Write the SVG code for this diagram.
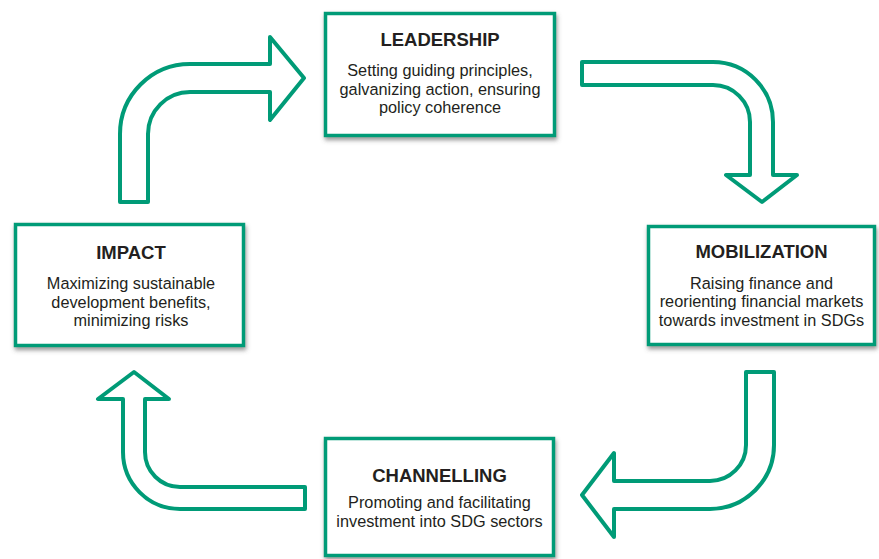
<svg xmlns="http://www.w3.org/2000/svg" width="879" height="559" viewBox="0 0 879 559">
  <defs>
    <filter id="shadow" x="-10%" y="-10%" width="120%" height="125%">
      <feDropShadow dx="1" dy="3" stdDeviation="2.2" flood-color="#555555" flood-opacity="0.6"/>
    </filter>
    <style>
      .box { fill: #ffffff; stroke: #009b77; stroke-width: 3.5; filter: url(#shadow); }
      .arrow { fill: #ffffff; stroke: #009b77; stroke-width: 4; stroke-linejoin: round; }
      .title { font-family: "Liberation Sans", Arial, sans-serif; font-weight: bold; font-size: 18.5px; fill: #231f20; text-anchor: middle; }
      .body { font-family: "Liberation Sans", Arial, sans-serif; font-size: 16.3px; fill: #231f20; text-anchor: middle; }
    </style>
  </defs>
  <rect width="879" height="559" fill="#ffffff"/>
  <g id="connectors">
    <path class="arrow" d="M120,202 L120,134 A70,70 0 0 1 190,64 L270,64 L270,37 L304,78 L270,120 L270,92 L190,92 A42,42 0 0 0 148,134 L148,202 Z"/>
    <path class="arrow" d="M582,62 L713,62 A60,60 0 0 1 773,122 L773,175 L797,175 L762,202 L726,175 L750,175 L750,122 A37,37 0 0 0 713,85 L582,85 Z"/>
    <path class="arrow" d="M746,372 L774,372 L774,445 A64,64 0 0 1 710,509 L614,509 L614,537 L582,495 L614,453 L614,481 L710,481 A36,36 0 0 0 746,445 Z"/>
    <path class="arrow" d="M305,487 L180,487 A35,35 0 0 1 145,452 L145,399 L169,399 L134,372 L98,399 L123,399 L123,452 A57,57 0 0 0 180,509 L305,509 Z"/>
  </g>
  <g id="leadership">
    <rect class="box" x="325.5" y="13.5" width="229" height="122"/>
    <text class="title" x="440" y="45.5">LEADERSHIP</text>
    <text class="body" x="440" y="76">Setting guiding principles,</text>
    <text class="body" x="440" y="94.5">galvanizing action, ensuring</text>
    <text class="body" x="440" y="113">policy coherence</text>
  </g>
  <g id="mobilization">
    <rect class="box" x="648.5" y="226.5" width="226" height="118"/>
    <text class="title" x="761.5" y="258.3">MOBILIZATION</text>
    <text class="body" x="761.5" y="289">Raising finance and</text>
    <text class="body" x="761.5" y="307">reorienting financial markets</text>
    <text class="body" x="761.5" y="325.5">towards investment in SDGs</text>
  </g>
  <g id="channelling">
    <rect class="box" x="325.5" y="438.5" width="228" height="117"/>
    <text class="title" x="439.5" y="481.7">CHANNELLING</text>
    <text class="body" x="439.5" y="508.3">Promoting and facilitating</text>
    <text class="body" x="439.5" y="526.7">investment into SDG sectors</text>
  </g>
  <g id="impact">
    <rect class="box" x="15.5" y="224.5" width="228" height="121"/>
    <text class="title" x="131" y="259">IMPACT</text>
    <text class="body" x="131" y="289">Maximizing sustainable</text>
    <text class="body" x="131" y="307.5">development benefits,</text>
    <text class="body" x="131" y="326">minimizing risks</text>
  </g>
</svg>
